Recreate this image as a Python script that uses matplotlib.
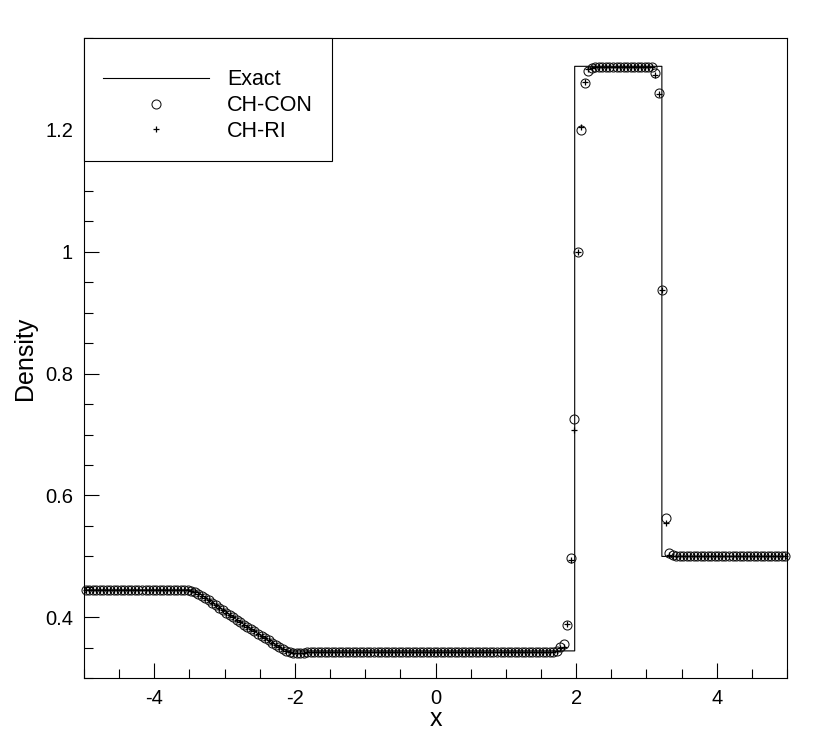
import numpy as np
import matplotlib
matplotlib.use("Agg")
import matplotlib.pyplot as plt
from matplotlib.ticker import MultipleLocator, FormatStrFormatter

plt.rcParams["font.family"] = ["Liberation Sans", "DejaVu Sans"]
plt.rcParams["axes.unicode_minus"] = False

# -----------------------------------------------------
# DATA
# -----------------------------------------------------

# exact solution: break points of the piecewise profile
x_exact = [-5.0, -3.42, -3.2, -3.0, -2.8, -2.6, -2.4, -2.2, -2.11,
           1.98, 1.98, 3.22, 3.22, 5.0]
rho_exact = [0.445, 0.445, 0.426, 0.410, 0.394, 0.379, 0.364, 0.3496, 0.345,
             0.345, 1.304, 1.304, 0.500, 0.500]

# cell centres, 200 cells on [-5, 5]
x_cells = np.arange(200) * 0.05 - 4.975

left_state = [0.445] * 28
rarefaction = [0.4448, 0.4442, 0.4430, 0.4410, 0.4383, 0.4352, 0.4318, 0.4280,
               0.4241, 0.4200, 0.4159, 0.4119, 0.4079, 0.4039, 0.4000, 0.3961,
               0.3922, 0.3883, 0.3845, 0.3807, 0.3769, 0.3732, 0.3695, 0.3658,
               0.3622, 0.3586, 0.3551, 0.3517, 0.3485, 0.3455, 0.3432, 0.3416,
               0.3410, 0.3412, 0.3418, 0.3424, 0.3429, 0.3432]
middle_state = [0.3435] * 68
upper_state = [1.303] * 17
right_state = [0.500] * 31

con_contact = [0.3445, 0.351, 0.357, 0.387, 0.498, 0.726, 1.000, 1.199, 1.277, 1.296, 1.301]
con_shock = [1.293, 1.261, 0.937, 0.563, 0.505, 0.502, 0.5008]
ri_contact = [0.3445, 0.350, 0.352, 0.389, 0.494, 0.707, 1.000, 1.204, 1.278, 1.299, 1.302]
ri_shock = [1.290, 1.258, 0.937, 0.554, 0.503, 0.501, 0.5005]

rho_con = left_state + rarefaction + middle_state + con_contact + upper_state + con_shock + right_state
rho_ri = left_state + rarefaction + middle_state + ri_contact + upper_state + ri_shock + right_state

# -----------------------------------------------------
# PLOT
# -----------------------------------------------------

fig = plt.figure(figsize=(8.3, 7.39), dpi=100)
ax = fig.add_axes([0.1012, 0.0821, 0.8470, 0.8661])

ax.plot(x_exact, rho_exact, color="black", lw=0.8, label="Exact")
ax.plot(x_cells, rho_con, ls="none", marker="o", ms=6.5, mfc="none",
        mec="#111111", mew=0.75, label="CH-CON", clip_on=False)
ax.plot(x_cells, rho_ri, ls="none", marker="+", ms=4.5, mec="black",
        mew=0.9, label="CH-RI", clip_on=False)

ax.set_xlim(-5, 5)
ax.set_ylim(0.3, 1.35)

ax.xaxis.set_major_locator(MultipleLocator(2))
ax.xaxis.set_minor_locator(MultipleLocator(0.5))
ax.yaxis.set_major_locator(MultipleLocator(0.2))
ax.yaxis.set_minor_locator(MultipleLocator(0.05))
ax.yaxis.set_major_formatter(FormatStrFormatter("%g"))
ax.xaxis.set_major_formatter(FormatStrFormatter("%g"))

ax.tick_params(which="both", direction="in", top=False, right=False,
               width=0.8, labelsize=14.5)
ax.tick_params(which="major", length=11, pad=8)
ax.tick_params(which="minor", length=6.5)
for sp in ax.spines.values():
    sp.set_linewidth(0.8)

ax.set_xlabel("x", fontsize=18, labelpad=-1)
ax.set_ylabel("Density", fontsize=18, labelpad=6)

leg = ax.legend(loc="upper left", bbox_to_anchor=(0, 1), borderaxespad=0,
                fontsize=15.5, handlelength=4.9, handletextpad=0.85,
                borderpad=0.9, labelspacing=0.22, fancybox=False,
                edgecolor="black", framealpha=1,
                title=" ", title_fontsize=6)
leg.get_frame().set_linewidth(0.8)

plt.savefig("out.png", dpi=100)
